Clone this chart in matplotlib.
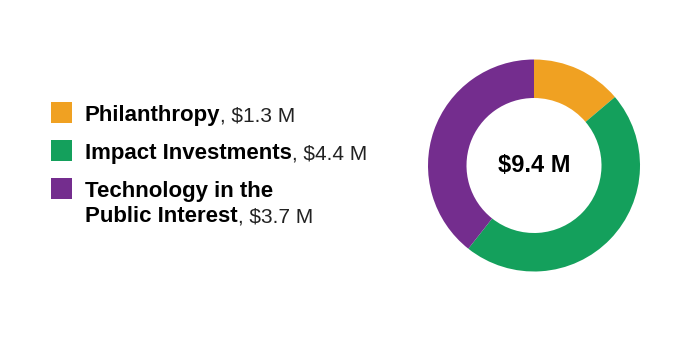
import matplotlib.pyplot as plt

# data
labels = ["Philanthropy", "Impact Investments", "Technology in the\nPublic Interest"]
amounts = [1.3, 4.4, 3.7]
amount_text = ["$1.3 M", "$4.4 M", "$3.7 M"]
total_text = "$9.4 M"
colors = ["#F0A122", "#14A05C", "#742D8E"]

plt.rcParams['font.family'] = ['Liberation Sans', 'DejaVu Sans']

fig = plt.figure(figsize=(7, 3.54), dpi=100)
ax = fig.add_axes([0, 0, 1, 1])

H = 354
# donut
ax.pie(amounts, colors=colors, startangle=90, counterclock=False,
       center=(534, H - 165.5), radius=106,
       wedgeprops=dict(width=38.5, linewidth=0))
ax.text(534, H - 166, total_text, ha='center', va='center',
        fontsize=17, fontweight='bold', color='black')

# legend rows
sq_top = [102, 140, 178]
baselines = [121, 159, 197]

for i, lab in enumerate(labels):
    ax.add_patch(plt.Rectangle((51, H - sq_top[i] - 21), 21, 21, color=colors[i], lw=0))
    for j, line in enumerate(lab.split("\n")):
        y = H - baselines[i] - 25.5 * j
        t = ax.text(85, y, line, ha='left', va='baseline',
                    fontsize=16, fontweight='bold', color='black')
    # regular-weight amount, same baseline, right after the bold label
    ax.annotate(", " + amount_text[i], xy=(1, y), xycoords=(t, 'data'),
                ha='left', va='baseline', fontsize=15, color='#222222')

ax.set_xlim(0, 700)
ax.set_ylim(0, H)
ax.set_aspect('equal')
ax.axis('off')

fig.savefig('out.png', dpi=100)
